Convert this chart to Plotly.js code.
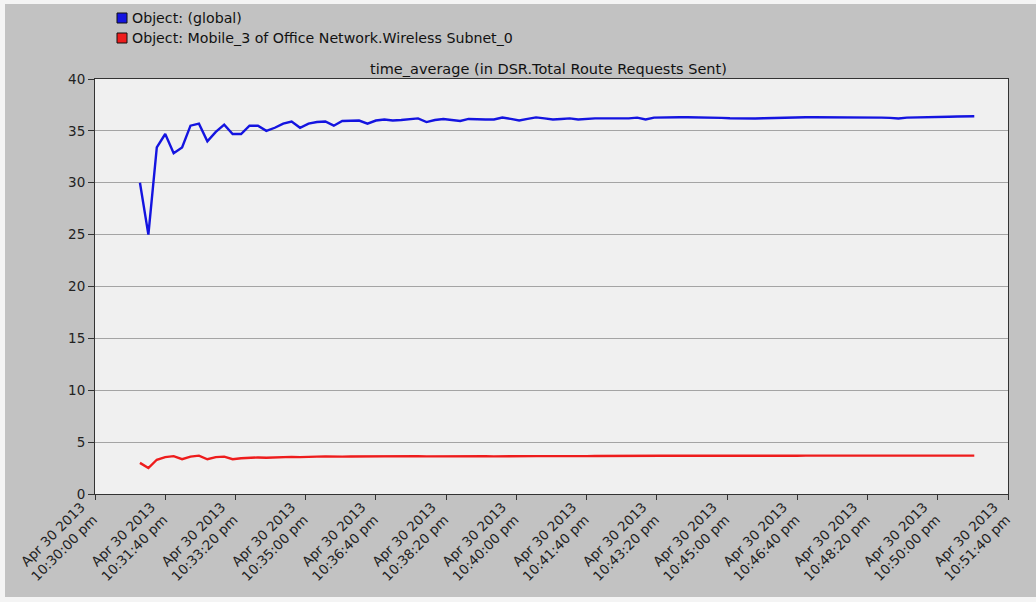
<!DOCTYPE html>
<html>
<head>
<meta charset="utf-8">
<script src="https://cdn.plot.ly/plotly-3.0.1.min.js"></script>
<style>
  html, body { margin: 0; padding: 0; background: #f4f4f4; }
  #chart { position: absolute; left: 5px; top: 4px; width: 1031px; height: 593px; }
</style>
</head>
<body>
<div id="chart"></div>
<script>
// ---- data ----
const seriesNames = ["Object: (global)", "Object: Mobile_3 of Office Network.Wireless Subnet_0"];
const chartTitle = "time_average (in DSR.Total Route Requests Sent)";

// sample times, seconds after 10:30:00 pm
const startSec = 64;
const stepSec = 12;

const globalValues = [
  30.0, 25.0, 33.4, 34.7, 32.85, 33.4, 35.5, 35.7, 34.0, 34.9,
  35.6, 34.7, 34.7, 35.5, 35.5, 35.0, 35.3, 35.7, 35.9, 35.3,
  35.7, 35.85, 35.9, 35.5, 35.95, 36.0, 36.0, 35.7, 36.0, 36.1,
  36.0, 36.05, 36.15, 36.2, 35.85, 36.05, 36.15, 36.05, 35.95, 36.15,
  36.1, 36.1, 36.1, 36.28, 36.15, 36.0, 36.15, 36.3, 36.2, 36.1,
  36.15, 36.2, 36.1, 36.18, 36.2, 36.2, 36.2, 36.2, 36.2, 36.28,
  36.1, 36.28, 36.3, 36.35, 36.31, 36.31, 36.31, 36.3, 36.28, 36.25,
  36.22, 36.19, 36.22, 36.19, 36.22, 36.25, 36.28, 36.28, 36.31, 36.31,
  36.31, 36.31, 36.33, 36.31, 36.31, 36.31, 36.3, 36.28, 36.28, 36.25,
  36.19, 36.28, 36.31, 36.31, 36.35, 36.35, 36.36, 36.38, 36.39, 36.41
];

const mobileValues = [
  3.0, 2.5, 3.3, 3.55, 3.65, 3.35, 3.6, 3.7, 3.35, 3.55,
  3.6, 3.35, 3.45, 3.5, 3.52, 3.5, 3.55, 3.57, 3.58, 3.55,
  3.6, 3.6, 3.62, 3.58, 3.6, 3.62, 3.63, 3.6, 3.62, 3.64,
  3.63, 3.62, 3.64, 3.65, 3.63, 3.64, 3.65, 3.64, 3.63, 3.64,
  3.65, 3.64, 3.63, 3.62, 3.63, 3.64, 3.64, 3.65, 3.65, 3.64,
  3.65, 3.66, 3.66, 3.65, 3.66, 3.67, 3.67, 3.66, 3.67, 3.68,
  3.68, 3.67, 3.68, 3.68, 3.69, 3.68, 3.68, 3.69, 3.69, 3.68,
  3.69, 3.69, 3.69, 3.68, 3.69, 3.69, 3.7, 3.69, 3.69, 3.7,
  3.7, 3.69, 3.7, 3.7, 3.7, 3.69, 3.7, 3.7, 3.7, 3.7,
  3.7, 3.7, 3.69, 3.7, 3.7, 3.7, 3.7, 3.7, 3.7, 3.7
];

const xTickVals = [0, 100, 200, 300, 400, 500, 600, 700, 800, 900, 1000, 1100, 1200, 1300];
const xTickText = [
  "Apr 30 2013<br>10:30:00 pm", "Apr 30 2013<br>10:31:40 pm", "Apr 30 2013<br>10:33:20 pm",
  "Apr 30 2013<br>10:35:00 pm", "Apr 30 2013<br>10:36:40 pm", "Apr 30 2013<br>10:38:20 pm",
  "Apr 30 2013<br>10:40:00 pm", "Apr 30 2013<br>10:41:40 pm", "Apr 30 2013<br>10:43:20 pm",
  "Apr 30 2013<br>10:45:00 pm", "Apr 30 2013<br>10:46:40 pm", "Apr 30 2013<br>10:48:20 pm",
  "Apr 30 2013<br>10:50:00 pm", "Apr 30 2013<br>10:51:40 pm"
];
const yTickVals = [0, 5, 10, 15, 20, 25, 30, 35, 40];

// ---- build ----
const times = globalValues.map((_, i) => startSec + stepSec * i);
const colors = ["#1414e0", "#ee1c1c"];
const FONT = "DejaVu Sans, Arial, sans-serif";

const traces = [
  { x: times, y: globalValues, type: "scatter", mode: "lines", name: seriesNames[0],
    line: { color: colors[0], width: 2.4 }, showlegend: false, hoverinfo: "x+y" },
  { x: times, y: mobileValues, type: "scatter", mode: "lines", name: seriesNames[1],
    line: { color: colors[1], width: 2.4 }, showlegend: false, hoverinfo: "x+y" }
];

const W = 1031, H = 593;
const m = { l: 90, r: 28, t: 75, b: 103 };
const pw = W - m.l - m.r, ph = H - m.t - m.b;
// page-pixel (inside div) to paper coords
const px = v => (v - m.l) / pw;
const py = v => (H - m.b - v) / ph;

const legendRows = [
  { top: 9, color: colors[0], text: seriesNames[0] },
  { top: 29, color: colors[1], text: seriesNames[1] }
];
const shapes = [];
const annotations = [];
legendRows.forEach(r => {
  shapes.push({ type: "rect", xref: "paper", yref: "paper",
    x0: px(112), x1: px(122), y0: py(r.top + 10), y1: py(r.top),
    fillcolor: r.color, line: { color: "#101010", width: 1 } });
  annotations.push({ xref: "paper", yref: "paper", x: px(125), y: py(r.top + 5),
    xanchor: "left", yanchor: "middle", showarrow: false, text: r.text,
    font: { family: FONT, size: 14.2, color: "#111" } });
});
annotations.push({ xref: "paper", yref: "paper", x: 0.497, y: 1, yanchor: "bottom", yshift: 0,
  showarrow: false, text: chartTitle,
  font: { family: FONT, size: 14.5, color: "#111" } });

const layout = {
  width: W, height: H,
  margin: m,
  paper_bgcolor: "#c2c2c2",
  plot_bgcolor: "#f0f0f0",
  showlegend: false,
  font: { family: FONT, color: "#222" },
  xaxis: {
    type: "linear", range: [0, 1300], tickmode: "array",
    tickvals: xTickVals, ticktext: xTickText, tickangle: -45,
    ticks: "outside", ticklen: 5, tickcolor: "#333", tickwidth: 1,
    ticklabelstandoff: -6, ticklabelshift: -14,
    showgrid: false, zeroline: false,
    showline: true, linecolor: "#333", linewidth: 1, mirror: true,
    tickfont: { family: FONT, size: 13.5, color: "#222" }
  },
  yaxis: {
    range: [0, 40], tickmode: "array", tickvals: yTickVals,
    ticks: "outside", ticklen: 6, tickcolor: "#333", tickwidth: 1,
    showgrid: true, gridcolor: "#a4a4a4", gridwidth: 1, zeroline: false,
    showline: true, linecolor: "#333", linewidth: 1, mirror: true,
    tickfont: { family: FONT, size: 13.5, color: "#222" }
  },
  shapes: shapes,
  annotations: annotations
};

Plotly.newPlot("chart", traces, layout, { displayModeBar: false, staticPlot: true });
</script>
</body>
</html>
